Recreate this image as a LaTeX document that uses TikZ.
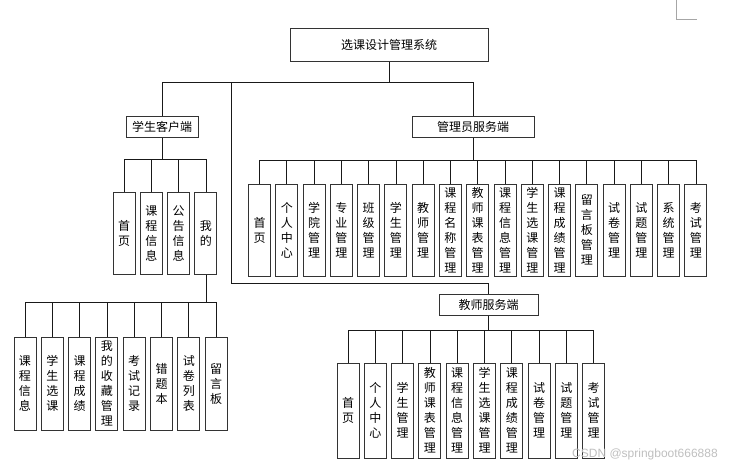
\documentclass[tikz,border=0pt]{standalone}
\usepackage{fontspec}
\setmainfont{Noto Sans CJK SC}
\newfontfamily\wmfont{Liberation Sans}
\begin{document}
\begin{tikzpicture}[x=1pt,y=-1pt,
  box/.style={draw=black!80, line width=1pt, fill=white, inner sep=0pt},
  hbox/.style={box, font=\fontsize{12}{14}\selectfont},
  vbox/.style={box, minimum width=22, minimum height=#1, align=center,
     font=\fontsize{12}{15}\selectfont},
  conn/.style={draw=black!90, line width=0.8pt}]
\useasboundingbox (0,0) rectangle (753,469);

% top level
\node[hbox, minimum width=198, minimum height=33] (top) at (389,44.5) {选课设计管理系统};
\node[hbox, minimum width=72, minimum height=21] (stu) at (162,126.5) {学生客户端};
\node[hbox, minimum width=122, minimum height=21] (adm) at (473,126.5) {管理员服务端};
\node[hbox, minimum width=99, minimum height=21] (tea) at (488.5,304.5) {教师服务端};

\coordinate (bus) at (0,82);
\coordinate (busT) at (231,82);
\coordinate (turnT) at (231,283);
\draw[conn] (top.south) -- (top.south |- bus);
\draw[conn] (stu.north) |- (adm.north |- bus) -- (adm.north);
\draw[conn] (busT) -- (turnT) -| (tea.north);

% student children
\coordinate (sbus) at (0,159);
\foreach \t [count=\i from 0] in {{首\\页},{课\\程\\信\\息},{公\\告\\信\\息},{我\\的}}{
  \node[vbox=82] (s\i) at ({124+27.3*\i},233) {\t};
  \draw[conn] (s\i.north) -- (s\i.north |- sbus);
}
\draw[conn] (stu.south) -- (stu.south |- sbus);
\draw[conn] (s0.north |- sbus) -- (s3.north |- sbus);

% my sub children
\coordinate (mbus) at (0,302);
\foreach \t [count=\i from 0] in {{课\\程\\信\\息},{学\\生\\选\\课},{课\\程\\成\\绩},{我\\的\\收\\藏\\管\\理},{考\\试\\记\\录},{错\\题\\本},{试\\卷\\列\\表},{留\\言\\板}}{
  \node[vbox=93] (m\i) at ({25+27.3*\i},383.5) {\t};
  \draw[conn] (m\i.north) -- (m\i.north |- mbus);
}
\draw[conn] (s3.south) -- (s3.south |- mbus);
\draw[conn] (m0.north |- mbus) -- (m7.north |- mbus);

% admin children
\coordinate (abus) at (0,160);
\foreach \t [count=\i from 0] in {{首\\页},{个\\人\\中\\心},{学\\院\\管\\理},{专\\业\\管\\理},{班\\级\\管\\理},{学\\生\\管\\理},{教\\师\\管\\理},{课\\程\\名\\称\\管\\理},{教\\师\\课\\表\\管\\理},{课\\程\\信\\息\\管\\理},{学\\生\\选\\课\\管\\理},{课\\程\\成\\绩\\管\\理},{留\\言\\板\\管\\理},{试\\卷\\管\\理},{试\\题\\管\\理},{系\\统\\管\\理},{考\\试\\管\\理}}{
  \node[vbox=92] (a\i) at ({259.5+27.28*\i},230) {\t};
  \draw[conn] (a\i.north) -- (a\i.north |- abus);
}
\draw[conn] (adm.south) -- (adm.south |- abus);
\draw[conn] (a0.north |- abus) -- (a16.north |- abus);

% teacher children
\coordinate (tbus) at (0,330);
\foreach \t [count=\i from 0] in {{首\\页},{个\\人\\中\\心},{学\\生\\管\\理},{教\\师\\课\\表\\管\\理},{课\\程\\信\\息\\管\\理},{学\\生\\选\\课\\管\\理},{课\\程\\成\\绩\\管\\理},{试\\卷\\管\\理},{试\\题\\管\\理},{考\\试\\管\\理}}{
  \node[vbox=95] (t\i) at ({348+27.3*\i},410.5) {\t};
  \draw[conn] (t\i.north) -- (t\i.north |- tbus);
}
\draw[conn] (tea.south) -- (tea.south |- tbus);
\draw[conn] (t0.north |- tbus) -- (t9.north |- tbus);

% page corner mark
\draw[black!35, line width=1pt] (676,0) -- (676,19) -- (697,19);

% watermark
\node[anchor=west, inner sep=0pt, font=\wmfont\fontsize{12}{12}\selectfont, text=black!25] (wm) at (572,454) {CSDN @springboot666888};
\end{tikzpicture}
\end{document}
